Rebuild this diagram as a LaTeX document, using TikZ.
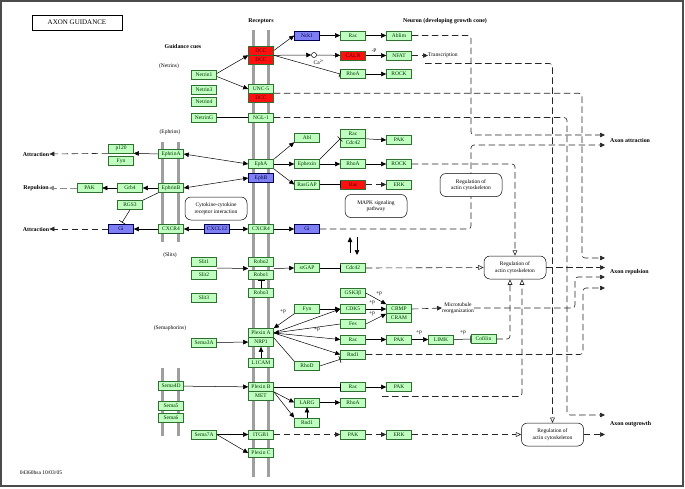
\documentclass[tikz,border=0pt]{standalone}
\usepackage{fontspec}
\setmainfont{Liberation Serif}
\usetikzlibrary{arrows.meta,calc}
\definecolor{kg}{HTML}{BFFFBF}
\definecolor{kgd}{HTML}{2F6F2F}
\definecolor{kr}{HTML}{FF1010}
\definecolor{kb}{HTML}{7F7FF5}
\newcommand\kfs{\fontsize{5.5}{6.4}\selectfont}
\newcommand\kfb{\fontsize{5.9}{7}\selectfont\bfseries}
\tikzset{
  bx/.style={draw=kgd, fill=kg, text=black!80!green, minimum width=25pt, minimum height=9pt, inner sep=0pt, font=\kfs, line width=0.6pt},
  rbx/.style={bx, fill=kr, text=red!30!black},
  bbx/.style={bx, fill=kb, draw=blue!30!black, text=blue!25!black},
  rnd/.style={draw, rounded corners=6pt, font=\kfs, align=center, fill=white, minimum width=62pt, minimum height=23pt, inner sep=1pt, line width=0.5pt},
  lab/.style={font=\kfs, inner sep=0pt},
  blab/.style={font=\kfb, inner sep=0pt},
  arr/.style={-{Triangle[length=5pt,width=4.5pt]}, line width=0.5pt},
  darr/.style={{Triangle[length=5pt,width=4.5pt]}-{Triangle[length=5pt,width=4.5pt]}, line width=0.5pt},
  dsh/.style={dash pattern=on 6.5pt off 3.5pt, draw=black!85, line width=0.6pt},
  inh/.style={-{Bar[width=7pt,line width=0.6pt]}, line width=0.5pt},
  oarr/.style={-{Triangle[open,length=5.5pt,width=4.8pt]}, line width=0.5pt},
  mem/.style={draw=gray!75, line width=3pt},
  pln/.style={line width=0.5pt}
}
\begin{document}
\begin{tikzpicture}[x=1pt,y=-1pt]
\fill[white] (0,0) rectangle (685,488);
\useasboundingbox (0,0) rectangle (685,488);
\draw[line width=1.5pt, gray!60!black] (1,1) rectangle (683,486);

% title and headers
\node[draw, line width=0.8pt, minimum width=90pt, minimum height=15pt, inner sep=0pt, font=\fontsize{7}{8}\selectfont] (title) at (77,22.5) {AXON GUIDANCE};
\node[blab] (hdrcues) at (183,46) {Guidance cues};
\node[blab] (hdrrec) at (261,21) {Receptors};
\node[blab] (hdrneu) at (445,21) {Neuron (developing growth cone)};
\node[lab] (lnetrins) at (169,66) {(Netrins)};
\node[lab] (lephrins) at (170,132) {(Ephrins)};
\node[lab] (lslits) at (170,255) {(Slits)};
\node[lab] (lsema) at (170,328) {(Semaphorins)};
\node[lab] (code) at (41,473) {04360hsa 10/03/05};

% membranes
\draw[mem] (253,30) -- (253,477);
\draw[mem] (268,30) -- (268,477);
\draw[mem] (162,142) -- (162,242);
\draw[mem] (178,142) -- (178,242);
\draw[mem] (162,368) -- (162,436);
\draw[mem] (178,368) -- (178,436);

% right side targets
\coordinate (att1) at (605,135);
\coordinate (att2) at (605,145);
\coordinate (rep1) at (605,258);
\coordinate (rep2) at (605,267.5);
\coordinate (rep3) at (605,277);
\coordinate (rep4) at (605,288);
\coordinate (out1) at (605,415);
\coordinate (out2) at (605,434.5);
\node[blab, anchor=west] (axatt) at (610,140) {Axon attraction};
\node[blab, anchor=west] (axrep) at (610,272) {Axon repulsion};
\node[blab, anchor=west] (axout) at (610,424.5) {Axon outgrowth};

% ---------- nodes: netrins ----------
\node[bx] (netA) at (204,75) {Netrin1};
\node[bx] (netC) at (204,90) {Netrin3};
\node[bx] (netD) at (204,101.5) {Netrin4};
\node[bx] (netG) at (204,117.5) {NetrinG};
\node[rbx] (dccA) at (261,50.5) {DCC};
\node[rbx] (dccB) at (261,59.5) {DCC};
\node[bx] (unc5) at (261,89) {UNC-5};
\node[rbx] (dccC) at (261,98) {DCC};
\node[bx] (ngl) at (261,117.5) {NGL-1};
\node[bbx] (nck) at (307,35.5) {Nck1};
\node[bx] (racA) at (353,35.5) {Rac};
\node[bx] (ablim) at (399,35.5) {Ablim};
\node[draw, circle, inner sep=0pt, minimum size=5pt, line width=0.5pt] (ca) at (314,55) {};
\node[lab] (calab) at (319,62) {Ca\textsuperscript{2+}};
\node[rbx] (caln) at (353,55.5) {CALN};
\node[bx] (nfat) at (399,55.5) {NFAT};
\node[lab, anchor=west] (trans) at (428,55.5) {Transcription};
\node[bx] (rhoA1) at (353,74) {RhoA};
\node[bx] (rock1) at (399,74) {ROCK};
\node[lab] (pcaln) at (374,50.5) {-P};

% ---------- ephrins ----------
\node[bx] (eA) at (171,154) {EphrinA};
\node[bx] (eB) at (171,188) {EphrinB};
\node[bx] (cxL) at (171,229) {CXCR4};
\node[bx] (p120) at (121,148.5) {p120};
\node[bx] (fynA) at (121,161) {Fyn};
\node[bx] (grb4) at (130,188) {Grb4};
\node[bx] (pakA) at (89.5,188) {PAK};
\node[bx] (rgs3) at (130,205) {RGS3};
\node[bbx] (giL) at (121,229) {Gi};
\node[bbx] (cxcl) at (217,229) {CXCL12};
\node[bx] (cxR) at (261,229) {CXCR4};
\node[bbx] (giR) at (307,229) {Gi};
\node[blab] (attr1) at (36,154) {Attraction};
\node[blab] (rep) at (36,188) {Repulsion};
\node[blab] (attr2) at (36,229) {Attraction};

\node[bx] (ephA) at (261,164) {EphA};
\node[bbx] (ephB) at (261,178) {EphB};
\node[bx] (abl) at (307,137.5) {Abl};
\node[bx] (ephx) at (307,164) {Ephexin};
\node[bx] (rasgap) at (307,184.5) {RasGAP};
\node[bx] (racB) at (353,134) {Rac};
\node[bx] (cdcB) at (353,143) {Cdc42};
\node[bx] (pakB) at (399,140) {PAK};
\node[bx] (rhoA2) at (353,164) {RhoA};
\node[bx] (rock2) at (399,164) {ROCK};
\node[rbx] (ras) at (353,184.5) {Ras};
\node[bx] (erk1) at (399,184.5) {ERK};

% ---------- slits ----------
\node[bx] (slit1) at (204,261.5) {Slit1};
\node[bx] (slit2) at (204,274.5) {Slit2};
\node[bx] (slit3) at (204,297.5) {Slit3};
\node[bx] (robo2) at (261,262) {Robo2};
\node[bx] (robo1) at (261,275) {Robo1};
\node[bx] (robo3) at (261,292.5) {Robo3};
\node[bx] (srgap) at (307,268) {srGAP};
\node[bx] (cdcC) at (353,268) {Cdc42};

% ---------- semaphorins ----------
\node[bx] (gsk) at (353,293) {GSK3β};
\node[bx] (cdk5) at (353,309) {CDK5};
\node[bx] (fes) at (353,324) {Fes};
\node[bx] (fynB) at (307,309) {Fyn};
\node[bx] (crmp) at (399,309) {CRMP};
\node[bx] (cram) at (399,318) {CRAM};
\node[lab, align=center] (micro) at (458,308) {Microtubule\\reorganization};
\node[bx] (plxA) at (261,333) {Plexin A};
\node[bx] (nrp1) at (261,342) {NRP1};
\node[bx] (l1cam) at (261,362.5) {L1CAM};
\node[bx] (sema3a) at (204,342.5) {Sema3A};
\node[bx] (racC) at (353,339.5) {Rac};
\node[bx] (pakC) at (399,339.5) {PAK};
\node[bx] (limk) at (441,339.5) {LIMK};
\node[bx] (cofilin) at (483.5,339) {Cofilin};
\node[bx] (rnd1A) at (353,354.5) {Rnd1};
\node[bx] (rhoD) at (307,366) {RhoD};
\node[bx] (sema4d) at (171,386) {Sema4D};
\node[bx] (sema5) at (171,406) {Sema5};
\node[bx] (sema6) at (171,417.5) {Sema6};
\node[bx] (plxB) at (261,387) {Plexin B};
\node[bx] (met) at (261,396) {MET};
\node[bx] (racD) at (353,387) {Rac};
\node[bx] (pakD) at (399,387) {PAK};
\node[bx] (larg) at (307,402.5) {LARG};
\node[bx] (rhoA3) at (353,402.5) {RhoA};
\node[bx] (rnd1B) at (307,422.5) {Rnd1};
\node[bx] (sema7a) at (204,434.5) {Sema7A};
\node[bx] (itgb1) at (261,434.5) {ITGB1};
\node[bx] (plxC) at (261,453) {Plexin C};
\node[bx] (pakE) at (353,434.5) {PAK};
\node[bx] (erk2) at (399,434.5) {ERK};

\node[lab] (pfyn) at (283,312) {+p};
\node[lab] (pfesA) at (317,330) {+p};
\node[lab] (pgsk) at (379,294) {+p};
\node[lab] (pcdk) at (372,303) {+p};
\node[lab] (pfesB) at (372,314) {+p};
\node[lab] (ppak) at (419,332.5) {+p};
\node[lab] (plimk) at (463,332.5) {+p};

% ---------- dashed routes (under boxes) ----------
\coordinate (c1) at (471,135);
\coordinate (c5) at (471,145);
\coordinate (tstart) at (425,63.5);
\coordinate (c3) at (582,258);
\coordinate (c4) at (567,415);
\coordinate (c8) at (575,277);
\coordinate (c11) at (583,288);
\coordinate (pbs) at (382,396.5);
\coordinate (regCtop) at (552.5,423);
\begin{scope}[rounded corners=3pt]
\draw[arr,dsh] (ablim.east) -| (c1) -- (att1);
\draw[arr,dsh] (giR.east) -| (c5) -- (att2);
\draw[oarr,dsh] (tstart) -| (regCtop);
\draw[arr,dsh] (dccC.north east) -| (c3) -- (rep1);
\draw[arr,dsh] (ngl.east) -| (c4) -- (out1);
\draw[arr,dsh] (micro.east) -| (c8) -- (rep3);
\draw[arr,dsh] (rnd1A.east) -| (c11) -- (rep4);
\end{scope}

% regulation boxes
\node[rnd] (regA) at (471,185) {Regulation of\\actin cytoskeleton};
\node[rnd] (regB) at (515,267.5) {Regulation of\\actin cytoskeleton};
\node[rnd] (regC) at (552.5,434.5) {Regulation of\\actin cytoskeleton};
\node[rnd] (mapk) at (376,206) {MAPK signaling\\pathway};
\node[rnd] (cyto) at (216,208.5) {Cytokine-cytokine\\receptor interaction};

\begin{scope}[rounded corners=3pt]
\draw[oarr,dsh] (rock2.east) -| (regB.north);
\draw[oarr,dsh] (cofilin.east) -| ([xshift=-5pt]regB.south);
\draw[oarr,dsh] (pbs) -| ([xshift=7pt]regB.south);
\end{scope}
\draw[oarr,dsh] (cdcC.east) -- (regB.west);
\draw[arr,dsh] (regB.east) -- (rep2);
\draw[arr,dsh] (crmp.east) -- (micro.west);
\draw[arr,dsh] (itgb1) -- (pakE);
\draw[arr,dsh] (pakE) -- (erk2);
\draw[oarr,dsh] (erk2) -- (regC.west);
\draw[arr,dsh] (regC.east) -- (out2);
\draw[arr,dsh] (nfat) -- (trans.west);

% ---------- netrin connectors ----------
\draw[arr] ([yshift=1.5pt]netA.east) -- (dccA.south west);
\draw[arr] ([yshift=-1.5pt]netA.east) -- (unc5.west);
\draw[pln] (netG) -- (ngl);
\draw[arr] (dccA.east) -- (nck.west);
\draw[arr] (dccA.south east) -- (ca.west);
\draw[arr] (ca) -- (caln);
\draw[inh] (dccA.south east) -- (rhoA1.west);
\draw[arr] (nck) -- (racA);
\draw[arr] (racA) -- (ablim);
\draw[arr] (caln) -- (nfat);
\draw[arr] (rhoA1) -- (rock1);

% ---------- ephrin connectors ----------
\draw[darr] (eA.east) -- (ephA.west);
\draw[darr] (eB.east) -- (ephB.west);
\draw[arr] (eA.west) -- (p120.south east);
\draw[arr,dsh] (p120.south west) -- (attr1.east);
\draw[arr] (eB) -- (grb4);
\draw[arr] (grb4) -- (pakA);
\draw[arr,dsh,draw=black!45] (pakA) -- (rep);
\draw[pln] (eB.south west) -- (rgs3.north east);
\draw[inh, shorten >=2pt] (rgs3.south) -- (giL.north);
\draw[arr] (cxL) -- (giL);
\draw[arr,dsh] (giL) -- (attr2);
\draw[arr] (cxcl) -- (cxL);
\draw[arr] (cxcl) -- (cxR);
\draw[arr] (cxR) -- (giR);
\draw[arr] (ephA.north east) -- (abl.south west);
\draw[arr] (ephA) -- (ephx);
\draw[arr] (ephA.south east) -- (rasgap.west);
\draw[inh] (ephx.north east) -- (racB.south west);
\draw[arr] (ephx) -- (rhoA2);
\draw[arr] (rhoA2) -- (rock2);
\draw[arr] (racB.south east) -- (pakB.west);
\draw[inh] (rasgap) -- (ras);
\draw[arr,dsh] (ras) -- (erk1);
\coordinate (ua1) at (350,253);
\coordinate (ua2) at (350,237);
\coordinate (da1) at (357,237);
\coordinate (da2) at (357,255);
\draw[arr] (ua1) -- (ua2);
\draw[arr] (da1) -- (da2);

% ---------- slit connectors ----------
\draw[arr] ($(slit1.south east)!.5!(slit2.north east)$) -- ($(robo2.south west)!.5!(robo1.north west)$);
\draw[arr] ($(robo2.south east)!.5!(robo1.north east)$) -- (srgap.west);
\draw[inh] (srgap) -- (cdcC);
\draw[inh] (robo3.north) -- (robo1.south);

% ---------- semaphorin connectors ----------
\draw[arr] (sema3a) -- (nrp1);
\draw[arr] (l1cam) -- (nrp1);
\draw[arr] (fynB.south west) -- (plxA.north east);
\draw[arr] (plxA.east) -- (cdk5.west);
\draw[arr] (fes.west) -- (plxA.east);
\draw[arr] (plxA.east) -- (racC.west);
\draw[arr] (plxA.east) -- (rnd1A.west);
\draw[pln] (plxA.south east) -- (rhoD.north west);
\draw[inh] (rhoD.east) -- (rnd1A.south west);
\draw[arr] (fynB) -- (cdk5);
\draw[arr] (gsk.east) -- (crmp.north west);
\draw[arr] (cdk5) -- (crmp);
\draw[arr] (fes.east) -- (crmp.south west);
\draw[arr] (racC) -- (pakC);
\draw[arr] (pakC) -- (limk);
\draw[inh] (limk) -- (cofilin);
\draw[arr] (sema4d) -- (plxB);
\draw[inh] (plxB) -- (racD);
\draw[arr] (racD) -- (pakD);
\draw[arr] (plxB.south east) -- (larg.west);
\draw[arr] (plxB.south east) -- (rnd1B.north west);
\draw[arr] (rnd1B) -- (larg);
\draw[arr] (larg) -- (rhoA3);
\draw[arr] (sema7a) -- (itgb1);
\draw[arr] (sema7a.east) -- (plxC.west);
\end{tikzpicture}
\end{document}
